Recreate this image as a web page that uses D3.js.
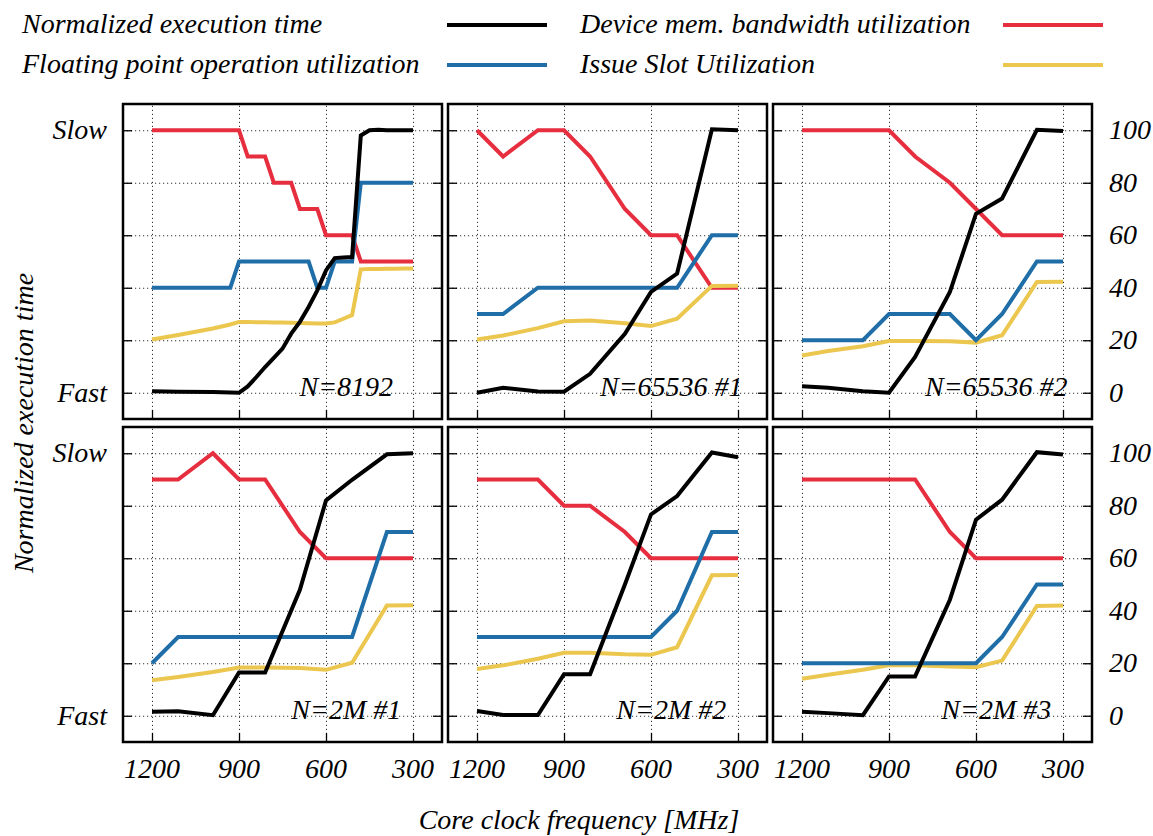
<!DOCTYPE html>
<html>
<head>
<meta charset="utf-8">
<script src="https://cdn.jsdelivr.net/npm/d3@7"></script>
<style>
  body { margin: 0; background: #fff; }
  svg { display: block; }
  text { font-family: "Liberation Serif", "Times New Roman", serif; font-style: italic; fill: #000; }
</style>
</head>
<body>
<svg id="chart" width="1153" height="836"></svg>
<script>
// Core clock frequencies (MHz) at which each run was measured
const freqFine   = [1200, 1110, 990, 930, 900, 870, 840, 810, 780, 750, 720, 690, 660, 630, 600, 570, 540, 510, 480, 450, 420, 390, 360, 330, 300];
const freqCoarse = [1200, 1110, 990, 900, 810, 690, 600, 510, 390, 300];

// N=8192
const time8192  = [0.6, 0.4, 0.3, 0.1, 0, 2.4, 6, 9.8, 13.3, 16.8, 22.5, 27, 32.7, 39, 46.6, 51.3, 51.5, 51.7, 98, 100, 100.2, 100, 100, 100, 100];
const mem8192   = [100, 100, 100, 100, 100, 90, 90, 90, 80, 80, 80, 70, 70, 70, 60, 60, 60, 60, 50, 50, 50, 50, 50, 50, 50];
const flop8192  = [40, 40, 40, 40, 50, 50, 50, 50, 50, 50, 50, 50, 50, 40, 40, 50, 50, 50, 80, 80, 80, 80, 80, 80, 80];
const issue8192 = [20.3, 22, 24.5, 26, 27, 27, 26.9, 26.9, 26.8, 26.8, 26.7, 26.6, 26.5, 26.4, 26.4, 26.8, 28.2, 29.6, 47, 47.1, 47.1, 47.2, 47.2, 47.3, 47.3];

// N=65536 #1
const time65k1  = [0, 1.9, 0.5, 0.4, 7.2, 22.5, 38.4, 45.4, 100.4, 100];
const mem65k1   = [100, 90, 100, 100, 90, 70, 60, 60, 40, 40];
const flop65k1  = [30, 30, 40, 40, 40, 40, 40, 40, 60, 60];
const issue65k1 = [20.3, 21.8, 24.6, 27.2, 27.5, 26.5, 25.4, 28.2, 40.7, 40.8];

// N=65536 #2
const time65k2  = [2.5, 1.9, 0.6, 0, 13.6, 38.4, 68.2, 74, 100.2, 99.7];
const mem65k2   = [100, 100, 100, 100, 90, 80, 70, 60, 60, 60];
const flop65k2  = [20, 20, 20, 30, 30, 30, 20, 30, 50, 50];
const issue65k2 = [14.2, 15.9, 17.7, 19.7, 19.7, 19.6, 19.1, 21.9, 42.2, 42.3];

// N=2M #1
const time2m1  = [1.5, 1.7, 0.2, 16.5, 16.5, 48, 82, 89.9, 99.6, 100];
const mem2m1   = [90, 90, 100, 90, 90, 70, 60, 60, 60, 60];
const flop2m1  = [20, 30, 30, 30, 30, 30, 30, 30, 70, 70];
const issue2m1 = [13.5, 14.8, 16.7, 18.4, 18.4, 18.2, 17.5, 20.2, 42, 42.1];

// N=2M #2
const time2m2  = [1.8, 0.3, 0.3, 15.8, 15.8, 50, 76.7, 83.7, 100.3, 98.5];
const mem2m2   = [90, 90, 90, 80, 80, 70, 60, 60, 60, 60];
const flop2m2  = [30, 30, 30, 30, 30, 30, 30, 40, 70, 70];
const issue2m2 = [17.8, 19.2, 21.7, 24, 24, 23.4, 23.2, 26.1, 53.5, 53.6];

// N=2M #3
const time2m3  = [1.5, 1, 0.2, 15, 15, 44.2, 74.7, 82.3, 100.4, 99.5];
const mem2m3   = [90, 90, 90, 90, 90, 70, 60, 60, 60, 60];
const flop2m3  = [20, 20, 20, 20, 20, 20, 20, 30, 50, 50];
const issue2m3 = [14.1, 15.6, 17.5, 19.2, 19.2, 18.8, 18.5, 21, 41.8, 42];

const panelTitles = ["N=8192", "N=65536 #1", "N=65536 #2", "N=2M #1", "N=2M #2", "N=2M #3"];
const xTicks = [1200, 900, 600, 300];
const yTicks = [0, 20, 40, 60, 80, 100];
const speedLabels = [{ v: 100, t: "Slow" }, { v: 0, t: "Fast" }];

const seriesNames  = ["Normalized execution time", "Device mem. bandwidth utilization",
                      "Floating point operation utilization", "Issue Slot Utilization"];
const seriesColors = { time: "#000000", mem: "#e62e3f", flop: "#1f6ea8", issue: "#ecc74f" };

const panels = [
  { title: panelTitles[0], f: freqFine,   time: time8192, mem: mem8192, flop: flop8192, issue: issue8192 },
  { title: panelTitles[1], f: freqCoarse, time: time65k1, mem: mem65k1, flop: flop65k1, issue: issue65k1 },
  { title: panelTitles[2], f: freqCoarse, time: time65k2, mem: mem65k2, flop: flop65k2, issue: issue65k2 },
  { title: panelTitles[3], f: freqCoarse, time: time2m1,  mem: mem2m1,  flop: flop2m1,  issue: issue2m1 },
  { title: panelTitles[4], f: freqCoarse, time: time2m2,  mem: mem2m2,  flop: flop2m2,  issue: issue2m2 },
  { title: panelTitles[5], f: freqCoarse, time: time2m3,  mem: mem2m3,  flop: flop2m3,  issue: issue2m3 }
];

// Layout
const svg = d3.select("#chart");
const FS = 28;
const PW = 319, PH = 315;
const colX = [123, 448, 773];
const rowY = [104, 427];

const x = d3.scaleLinear().domain([1300, 200]).range([0, PW]);
const y = d3.scaleLinear().domain([-10, 110]).range([PH, 0]);

const line = d3.line().x(d => x(d.f)).y(d => y(d.v));
const drawOrder = ["mem", "issue", "flop", "time"];

panels.forEach((p, i) => {
  const c = i % 3, r = Math.floor(i / 3);
  const g = svg.append("g").attr("transform", `translate(${colX[c]},${rowY[r]})`);

  // dotted grid
  g.append("g").attr("transform", `translate(0,${PH})`)
    .call(d3.axisBottom(x).tickValues(xTicks).tickSize(-PH).tickFormat(""))
    .call(a => a.select(".domain").remove())
    .selectAll("line").attr("stroke", "#333").attr("stroke-width", 1).attr("stroke-dasharray", "1.2,2.8");
  g.append("g")
    .call(d3.axisLeft(y).tickValues(yTicks).tickSize(-PW).tickFormat(""))
    .call(a => a.select(".domain").remove())
    .selectAll("line").attr("stroke", "#333").attr("stroke-width", 1).attr("stroke-dasharray", "1.2,2.8");

  // inward tick marks
  const tickStyle = a => { a.select(".domain").remove(); a.selectAll("line").attr("stroke", "#000").attr("stroke-width", 1.3); };
  g.append("g").attr("transform", `translate(0,${PH})`)
    .call(d3.axisBottom(x).tickValues(xTicks).tickSize(-9).tickFormat("")).call(tickStyle);
  g.append("g")
    .call(d3.axisLeft(y).tickValues(yTicks).tickSize(-9).tickFormat("")).call(tickStyle);
  g.append("g").attr("transform", `translate(${PW},0)`)
    .call(d3.axisRight(y).tickValues(yTicks).tickSize(-9).tickFormat("")).call(tickStyle);

  // series
  drawOrder.forEach(key => {
    const pts = p.f.map((f, k) => ({ f: f, v: p[key][k] }));
    g.append("path").datum(pts)
      .attr("d", line)
      .attr("fill", "none")
      .attr("stroke", seriesColors[key])
      .attr("stroke-width", 4)
      .attr("stroke-linejoin", "miter")
      .attr("stroke-miterlimit", 4);
  });

  // panel title
  g.append("text")
    .attr("x", x(530)).attr("y", y(0) + 3)
    .attr("text-anchor", "middle")
    .attr("font-size", FS)
    .text(p.title);

  // border
  g.append("rect").attr("width", PW).attr("height", PH)
    .attr("fill", "none").attr("stroke", "#000").attr("stroke-width", 2.5);

  // x tick labels on bottom row
  if (r === 1) {
    g.selectAll(".xl").data(xTicks).enter().append("text")
      .attr("x", d => x(d)).attr("y", PH + 36)
      .attr("text-anchor", "middle").attr("font-size", FS)
      .text(d => d);
  }
  // Slow / Fast on the left column
  if (c === 0) {
    g.selectAll(".sl").data(speedLabels).enter().append("text")
      .attr("x", -16).attr("y", d => y(d.v)).attr("dy", "0.33em")
      .attr("text-anchor", "end").attr("font-size", FS)
      .text(d => d.t);
  }
  // percentage labels on the right column
  if (c === 2) {
    g.selectAll(".yl").data(yTicks).enter().append("text")
      .attr("x", PW + 17).attr("y", d => y(d)).attr("dy", "0.33em")
      .attr("text-anchor", "start").attr("font-size", FS)
      .text(d => d);
  }
});

// axis titles
svg.append("text")
  .attr("transform", `translate(33,${(rowY[0] + rowY[1] + PH) / 2}) rotate(-90)`)
  .attr("text-anchor", "middle").attr("font-size", FS)
  .text("Normalized execution time");
svg.append("text")
  .attr("x", 579).attr("y", 829)
  .attr("text-anchor", "middle").attr("font-size", FS)
  .text("Core clock frequency [MHz]");

// legend
const legendItems = [
  { name: seriesNames[0], key: "time",  tx: 22,  ly: 25 },
  { name: seriesNames[1], key: "mem",   tx: 580, ly: 25 },
  { name: seriesNames[2], key: "flop",  tx: 22,  ly: 65 },
  { name: seriesNames[3], key: "issue", tx: 580, ly: 65 }
];
const legend = svg.append("g");
legendItems.forEach(d => {
  legend.append("text").attr("x", d.tx).attr("y", d.ly + 8).attr("font-size", FS).text(d.name);
  const lx = d.tx === 22 ? 447 : 1003;
  legend.append("line")
    .attr("x1", lx).attr("x2", lx + 100).attr("y1", d.ly).attr("y2", d.ly)
    .attr("stroke", seriesColors[d.key]).attr("stroke-width", 4);
});
</script>
</body>
</html>
